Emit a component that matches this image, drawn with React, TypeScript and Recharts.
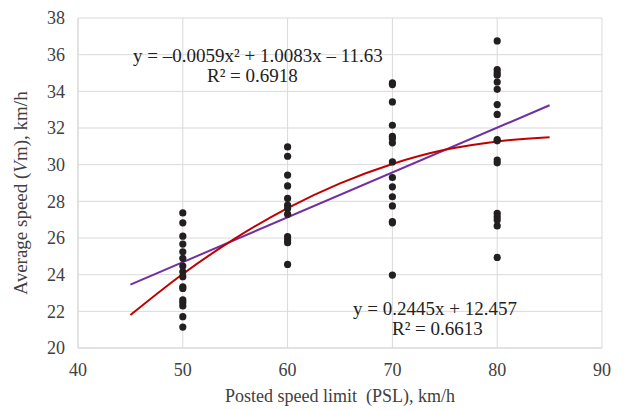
import React from "react";
import {
  ComposedChart,
  Scatter,
  Line,
  XAxis,
  YAxis,
  CartesianGrid,
} from "recharts";

const psl50 = [27.37, 26.83, 26.1, 25.67, 25.25, 24.89, 24.47, 24.16, 23.89, 23.34, 23.25, 22.62, 22.47, 22.29, 21.71, 21.14];
const psl60 = [30.97, 30.46, 29.43, 28.84, 28.16, 27.79, 27.61, 27.3, 26.07, 25.89, 25.74, 24.56];
const psl70 = [34.46, 34.37, 33.42, 32.15, 31.55, 31.43, 31.19, 30.15, 29.3, 28.79, 28.25, 27.75, 26.83, 26.9, 23.98];
const psl80 = [36.75, 35.19, 35.02, 34.88, 34.51, 34.11, 33.28, 32.74, 31.37, 31.3, 30.25, 30.1, 27.34, 27.16, 26.98, 26.66, 24.94];

const trendX = [45, 50, 55, 60, 65, 70, 75, 80, 85];
const quadY = [21.8, 24.04, 25.98, 27.63, 28.98, 30.04, 30.81, 31.27, 31.5];
const linX = [45, 85];
const linY = [23.46, 33.24];

const xTicks = [40, 50, 60, 70, 80, 90];
const yTicks = [20, 22, 24, 26, 28, 30, 32, 34, 36, 38];

const scatterData = [
  ...psl50.map((v) => ({ x: 50, y: v })),
  ...psl60.map((v) => ({ x: 60, y: v })),
  ...psl70.map((v) => ({ x: 70, y: v })),
  ...psl80.map((v) => ({ x: 80, y: v })),
];
const quadData = trendX.map((x, i) => ({ x, y: quadY[i] }));
const linData = linX.map((x, i) => ({ x, y: linY[i] }));

const FONT = "'Liberation Serif', 'Times New Roman', serif";

const YLabel = (props: any) => {
  const vb = props.viewBox || {};
  const cx = 20;
  const cy = vb.y + vb.height / 2 + 10;
  return (
    <text
      x={cx}
      y={cy}
      transform={`rotate(-90, ${cx}, ${cy})`}
      textAnchor="middle"
      dominantBaseline="central"
      fontFamily={FONT}
      fontSize={19}
      fill="#404040"
    >
      Average speed (<tspan fontStyle="italic">V</tspan>m), km/h
    </text>
  );
};

const eqStyle: React.CSSProperties = {
  position: "absolute",
  fontFamily: FONT,
  fontSize: 19,
  lineHeight: "20px",
  color: "#222",
  whiteSpace: "nowrap",
};

export default function App() {
  return (
    <div style={{ position: "absolute", left: 0, top: 0, width: 630, height: 410, background: "#fff" }}>
      <ComposedChart
        width={630}
        height={410}
        margin={{ top: 18, right: 28, bottom: 32, left: 28 }}
      >
        <CartesianGrid stroke="#d9d9d9" strokeWidth={1} />
        <XAxis
          type="number"
          dataKey="x"
          domain={[40, 90]}
          ticks={xTicks}
          axisLine={{ stroke: "#d9d9d9" }}
          tickLine={false}
          tickSize={0}
          tickMargin={15}
          height={30}
          tick={{ fontFamily: FONT, fontSize: 18, fill: "#404040" }}
          label={{
            value: "Posted speed limit \u00a0(PSL), km/h",
            position: "insideBottom",
            offset: -24,
            style: { fontFamily: FONT, fontSize: 18, fill: "#404040", textAnchor: "middle" },
          }}
        />
        <YAxis
          type="number"
          dataKey="y"
          domain={[20, 38]}
          ticks={yTicks}
          axisLine={{ stroke: "#d9d9d9" }}
          tickLine={false}
          tickSize={0}
          tickMargin={13}
          width={50}
          tick={{ fontFamily: FONT, fontSize: 18, fill: "#404040" }}
          label={<YLabel />}
        />
        <Line
          data={linData}
          dataKey="y"
          type="linear"
          stroke="#7030a0"
          strokeWidth={2}
          dot={false}
          activeDot={false}
          isAnimationActive={false}
        />
        <Line
          data={quadData}
          dataKey="y"
          type="monotone"
          stroke="#c00000"
          strokeWidth={2}
          dot={false}
          activeDot={false}
          isAnimationActive={false}
        />
        <Scatter
          data={scatterData}
          dataKey="y"
          fill="#231f20"
          shape={(p: any) => <circle cx={p.cx} cy={p.cy} r={3.6} fill="#231f20" />}
          isAnimationActive={false}
        />
      </ComposedChart>
      <div style={{ ...eqStyle, left: 133, top: 46 }}>y = –0.0059x² + 1.0083x – 11.63</div>
      <div style={{ ...eqStyle, left: 207, top: 66 }}>R² = 0.6918</div>
      <div style={{ ...eqStyle, left: 353, top: 299 }}>y = 0.2445x + 12.457</div>
      <div style={{ ...eqStyle, left: 392, top: 319 }}>R² = 0.6613</div>
    </div>
  );
}
